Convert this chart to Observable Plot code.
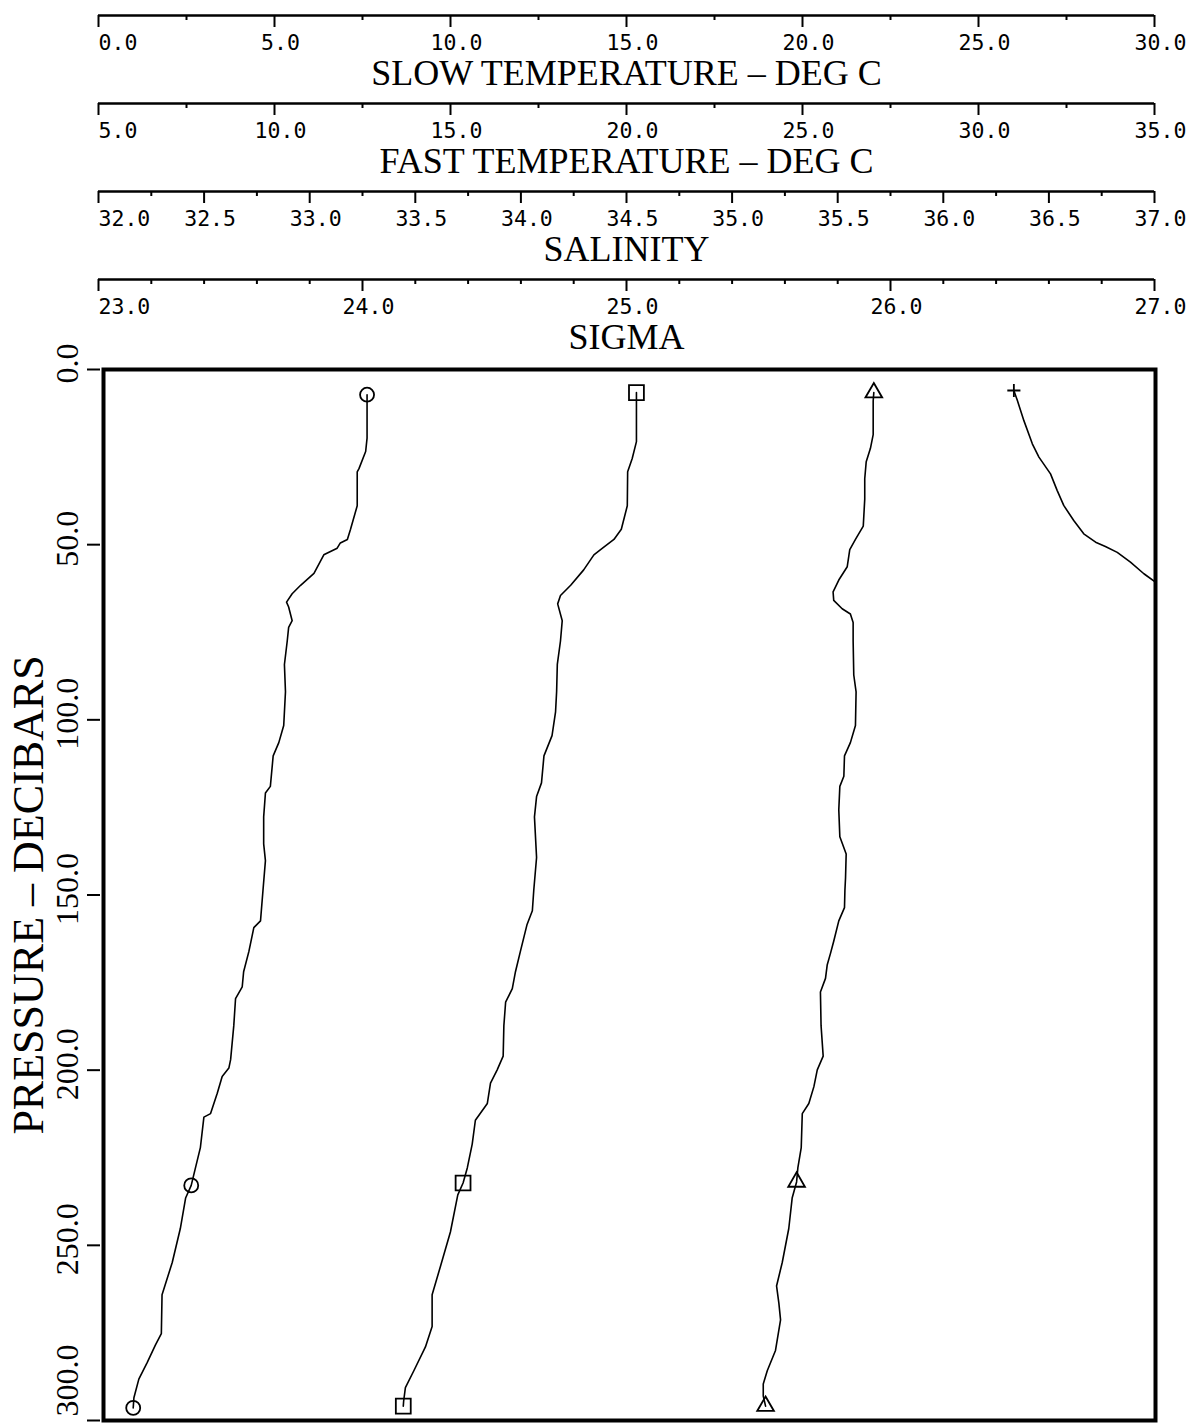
<!DOCTYPE html>
<html><head><meta charset="utf-8">
<script src="https://cdn.jsdelivr.net/npm/d3@7"></script>
<script src="https://cdn.jsdelivr.net/npm/@observablehq/plot@0.6"></script>
<style>
html,body{margin:0;padding:0;background:#fff;}
#chart svg{display:block;overflow:visible;}
</style></head><body><div id="chart"></div>
<script>
// ---- axis definitions (tick values) ----
const slowDomain = [0, 30];
const slowMajor = [0, 5, 10, 15, 20, 25, 30];
const slowMinor = [2.5, 7.5, 12.5, 17.5, 22.5, 27.5];
const fastDomain = [5, 35];
const fastMajor = [5, 10, 15, 20, 25, 30, 35];
const fastMinor = [7.5, 12.5, 17.5, 22.5, 27.5, 32.5];
const salDomain = [32, 37];
const salMajor = [32, 32.5, 33, 33.5, 34, 34.5, 35, 35.5, 36, 36.5, 37];
const salMinor = [32.25, 32.75, 33.25, 33.75, 34.25, 34.75, 35.25, 35.75, 36.25, 36.75];
const sigmaDomain = [23, 27];
const sigmaMajor = [23, 24, 25, 26, 27];
const sigmaMinor = [23.2, 23.4, 23.6, 23.8, 24.2, 24.4, 24.6, 24.8, 25.2, 25.4, 25.6, 25.8, 26.2, 26.4, 26.6, 26.8];
const pressureDomain = [0, 300];
const pressureTicks = [0, 50, 100, 150, 200, 250, 300];
const markerDepths = [7, 232, 296];

// ---- profiles ----
const slowPressure = [7.2, 9.0, 19.6, 23.4, 28.3, 29.2, 38.9, 45.6, 48.5, 49.5, 51.0, 52.9, 58.2, 61.6, 64.0, 66.4, 67.8, 71.7, 73.6, 77.5, 84.2, 92.0, 101.6, 106.5, 110.3, 119.0, 120.9, 127.7, 135.4, 140.2, 148.7, 157.4, 159.3, 166.1, 171.9, 176.2, 179.6, 187.3, 197.0, 199.4, 201.8, 206.6, 212.4, 213.4, 222.1, 227.9, 232.9, 236.5, 245.2, 254.9, 264.1, 275.2, 278.5, 283.4, 288.2, 293.5, 296.4];
const slowTemperature = [7.58, 7.58, 7.58, 7.54, 7.35, 7.30, 7.30, 7.11, 7.02, 6.82, 6.73, 6.35, 6.07, 5.69, 5.45, 5.29, 5.35, 5.45, 5.35, 5.31, 5.23, 5.26, 5.21, 5.07, 4.91, 4.83, 4.69, 4.64, 4.64, 4.69, 4.62, 4.55, 4.36, 4.22, 4.07, 4.03, 3.84, 3.79, 3.70, 3.65, 3.46, 3.32, 3.13, 2.94, 2.84, 2.70, 2.58, 2.42, 2.27, 2.04, 1.75, 1.73, 1.56, 1.33, 1.09, 0.95, 0.93];

const fastPressure = [6.6, 9.0, 20.6, 25.4, 29.2, 38.9, 45.6, 48.5, 51.4, 52.9, 57.2, 61.6, 64.5, 66.9, 71.7, 77.5, 84.2, 92.0, 97.7, 104.5, 110.3, 118.0, 121.9, 127.7, 139.3, 148.7, 154.5, 158.4, 166.1, 171.9, 176.7, 180.6, 187.3, 196.0, 199.9, 203.7, 209.5, 214.3, 221.1, 227.9, 232.2, 235.6, 246.2, 255.9, 264.1, 273.2, 279.0, 285.8, 290.6, 294.5, 295.9];
const fastTemperature = [20.24, 20.24, 20.24, 20.12, 19.99, 19.98, 19.81, 19.60, 19.22, 19.03, 18.74, 18.37, 18.08, 18.00, 18.13, 18.08, 17.99, 17.97, 17.94, 17.84, 17.61, 17.54, 17.40, 17.34, 17.40, 17.32, 17.28, 17.13, 16.94, 16.80, 16.71, 16.52, 16.47, 16.45, 16.28, 16.09, 16.00, 15.66, 15.57, 15.43, 15.31, 15.16, 14.95, 14.67, 14.43, 14.43, 14.24, 13.91, 13.67, 13.62, 13.61];

const salinityPressure = [6.6, 9.0, 18.6, 22.5, 26.3, 31.2, 37.0, 44.7, 48.5, 51.4, 56.3, 60.1, 63.5, 65.9, 68.3, 69.8, 72.2, 77.5, 87.2, 92.0, 101.6, 106.5, 110.3, 116.1, 119.0, 125.7, 133.4, 138.3, 145.1, 148.7, 153.6, 157.4, 163.2, 166.6, 170.0, 173.8, 177.7, 187.3, 196.0, 199.9, 204.7, 209.5, 212.4, 222.1, 227.9, 231.9, 236.5, 245.2, 254.9, 261.6, 266.5, 271.3, 280.0, 285.8, 289.6, 293.0, 295.9];
const salinity = [35.665, 35.662, 35.662, 35.649, 35.629, 35.622, 35.622, 35.615, 35.578, 35.551, 35.539, 35.499, 35.472, 35.475, 35.515, 35.554, 35.567, 35.567, 35.570, 35.581, 35.578, 35.554, 35.526, 35.523, 35.504, 35.499, 35.504, 35.534, 35.531, 35.528, 35.526, 35.499, 35.475, 35.460, 35.444, 35.436, 35.412, 35.415, 35.425, 35.397, 35.381, 35.357, 35.326, 35.321, 35.305, 35.299, 35.278, 35.262, 35.231, 35.204, 35.215, 35.223, 35.199, 35.160, 35.141, 35.141, 35.152];

const sigmaPressure = [6.0, 8.8, 14.6, 21.2, 25.0, 29.8, 34.5, 38.8, 43.1, 46.9, 49.3, 50.5, 52.2, 55.0, 58.3, 60.7, 62.0];
const sigma = [26.463, 26.476, 26.501, 26.533, 26.558, 26.602, 26.627, 26.652, 26.690, 26.728, 26.773, 26.810, 26.855, 26.905, 26.956, 27.000, 27.020];

// ---- build ----
const W = 1193;
const tickFont = "DejaVu Sans Mono";
const serif = "Liberation Serif";
const fmt = d => d.toFixed(1);

const axes = [
  {title: "SLOW TEMPERATURE – DEG C", domain: slowDomain, major: slowMajor, minor: slowMinor},
  {title: "FAST TEMPERATURE – DEG C", domain: fastDomain, major: fastMajor, minor: fastMinor},
  {title: "SALINITY", domain: salDomain, major: salMajor, minor: salMinor},
  {title: "SIGMA", domain: sigmaDomain, major: sigmaMajor, minor: sigmaMinor}
];

const chart = document.getElementById("chart");

for (const a of axes) {
  const strip = Plot.plot({
    width: W, height: 88,
    marginLeft: 98, marginRight: 39, marginTop: 15, marginBottom: 73,
    x: {domain: a.domain},
    y: {domain: [0, 1], axis: null},
    style: {background: "transparent", overflow: "visible", color: "black"},
    marks: [
      Plot.ruleY([0], {stroke: "black", strokeWidth: 2.5}),
      Plot.axisX(a.minor, {anchor: "bottom", tickSize: 5, tickFormat: () => "", label: null, stroke: "black", strokeWidth: 2}),
      Plot.axisX(a.major, {anchor: "bottom", tickSize: 12, tickFormat: () => "", label: null, stroke: "black", strokeWidth: 2}),
      Plot.text(a.major.slice(0, 1), {x: d => d, y: 0, dy: 28, text: fmt, textAnchor: "start", fontFamily: tickFont, fontSize: 21.5, fill: "black"}),
      Plot.text(a.major.slice(1), {x: d => d, y: 0, dy: 28, dx: 6, text: fmt, textAnchor: "middle", fontFamily: tickFont, fontSize: 21.5, fill: "black"}),
      Plot.text([a.title], {x: (a.domain[0] + a.domain[1]) / 2, y: 0, dy: 58, text: d => d, textAnchor: "middle", fontFamily: serif, fontSize: 36, fill: "black"})
    ]
  });
  chart.appendChild(strip);
}

const series = [
  {key: "slow", p: slowPressure, v: slowTemperature, domain: slowDomain, symbol: "circle", r: 7},
  {key: "fast", p: fastPressure, v: fastTemperature, domain: fastDomain, symbol: "square", r: 8.4},
  {key: "salinity", p: salinityPressure, v: salinity, domain: salDomain, symbol: "triangle", r: 6.2},
  {key: "sigma", p: sigmaPressure, v: sigma, domain: sigmaDomain, symbol: "plus", r: 4.3}
];

const rows = series.flatMap(s => s.p.map((p, i) => ({
  series: s.key, p, f: (s.v[i] - s.domain[0]) / (s.domain[1] - s.domain[0])
})));

const markerMarks = series.map(s => {
  const pts = [];
  for (const md of markerDepths) {
    let best = 0;
    s.p.forEach((p, i) => { if (Math.abs(p - md) < Math.abs(s.p[best] - md)) best = i; });
    if (Math.abs(s.p[best] - md) < 4) pts.push({p: s.p[best], f: (s.v[best] - s.domain[0]) / (s.domain[1] - s.domain[0])});
  }
  return Plot.dot(pts, {x: "f", y: "p", symbol: s.symbol, r: s.r, stroke: "black", strokeWidth: 1.8, fill: "none", clip: true});
});

const yLabelStyle = {frameAnchor: "left", dx: -33, rotate: -90, text: fmt, textAnchor: "middle", lineAnchor: "middle", fontFamily: serif, fontSize: 32, fill: "black"};

const main = Plot.plot({
  width: W, height: 1071,
  marginLeft: 100, marginRight: 38, marginTop: 17, marginBottom: 3,
  x: {domain: [0, 1], axis: null},
  y: {domain: pressureDomain, reverse: true},
  style: {background: "transparent", overflow: "visible", color: "black"},
  marks: [
    Plot.axisY(pressureTicks, {anchor: "left", tickSize: 13, tickFormat: () => "", label: null, stroke: "black", strokeWidth: 2}),
    Plot.text(pressureTicks.slice(0, -1), {y: d => d, dy: -6, ...yLabelStyle}),
    Plot.text(pressureTicks.slice(-1), {y: d => d, dy: -40, ...yLabelStyle}),
    Plot.text(["PRESSURE – DECIBARS"], {frameAnchor: "left", dx: -72, rotate: -90, text: d => d, textAnchor: "middle", lineAnchor: "middle", fontFamily: serif, fontSize: 44, fill: "black"}),
    Plot.line(rows, {x: "f", y: "p", z: "series", stroke: "black", strokeWidth: 1.6, clip: true}),
    ...markerMarks,
    Plot.frame({stroke: "black", strokeWidth: 4, insetLeft: 3})
  ]
});
chart.appendChild(main);
</script></body></html>
